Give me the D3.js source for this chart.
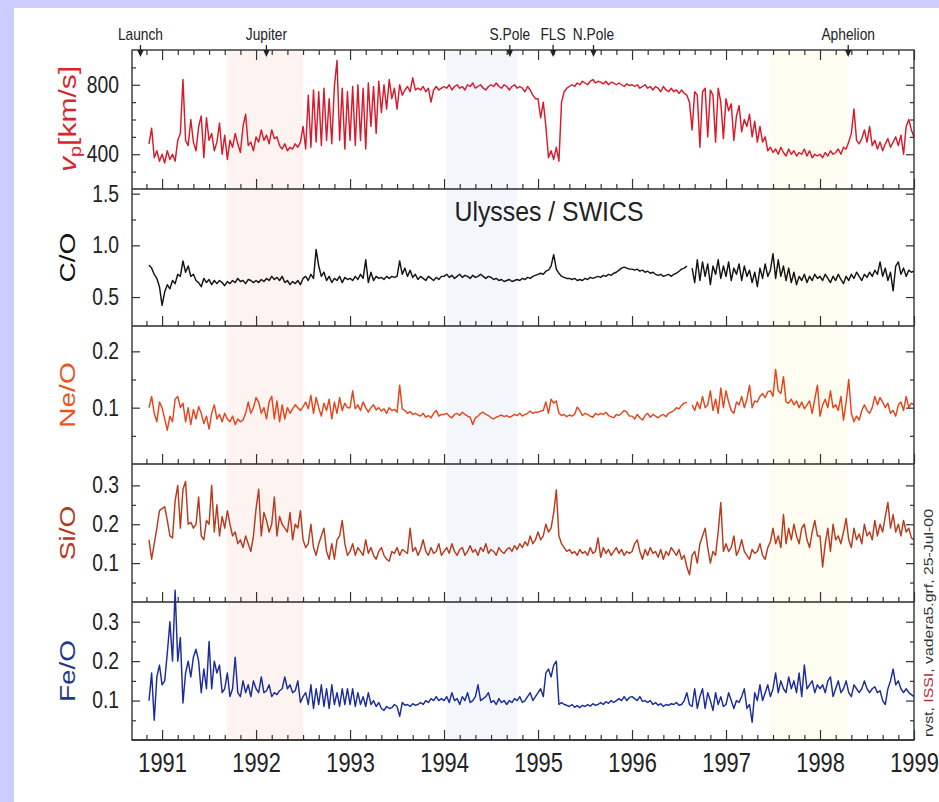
<!DOCTYPE html>
<html lang="en">
<head>
  <meta charset="UTF-8" />
  <title>Ulysses / SWICS element ratios</title>
  <script src="https://d3js.org/d3.v7.min.js"></script>
  <style>
    body { margin: 0; background: #fff; }
    svg { display: block; font-family: "Liberation Sans", Arial, sans-serif; }
    .tick line { stroke: #333; stroke-width: 1.2px; }
    .series { fill: none; stroke-width: 1.45px; stroke-linejoin: round; }
  </style>
</head>
<body>
  <svg width="939" height="802"></svg>

  <script>
    // sampling: rows are calendar years, 36 samples per year (first row starts at 31/36 of 1990)
    const rowYears = [1990, 1991, 1992, 1993, 1994, 1995, 1996, 1997, 1998, 1999];
    const firstRowOffset = 31;
    const perYear = 36;

    const vp = [
      [460, 550, 380, 420, 360],
      [400,350,420,370,400,360,480,520,830,480, 450,600,470,420,560,620,380,610,480,520, 420,470,580,400,510,370,480,440,520,460, 410,560,630,450,470,420],
      [500,470,540,480,510,460,540,490,500,450, 430,460,420,440,430,460,440,470,560,430, 740,440,770,470,760,450,780,480,720,460, 790,940,480,780,430,760],
      [480,790,450,800,480,780,430,810,560,790, 520,820,640,800,660,830,720,780,660,800, 740,770,790,760,840,770,780,770,790,760, 780,700,770,790,770,780],
      [790,780,800,770,790,800,780,790,770,800, 790,810,780,790,800,780,770,790,800,790, 810,790,780,800,790,770,790,800,780,790, 780,760,790,770,740,720],
      [720,610,700,560,380,420,370,440,360,700, 760,780,790,800,790,810,800,820,810,800, 820,830,810,820,815,805,820,800,815,810, 800,810,800,790,805,795],
      [800,790,800,780,790,800,780,790,770,790, 780,760,790,770,760,780,760,770,750,770, 750,740,700,540,760,740,440,760,780,500, 770,740,470,780,700,490],
      [720,650,690,480,620,680,530,600,560,630, 500,590,470,560,470,500,420,440,410,430, 400,440,410,390,430,400,420,390,410,400, 430,390,420,380,400,390],
      [400,380,410,390,420,400,410,430,400,440, 430,470,520,660,480,460,490,540,470,560, 450,480,430,470,420,460,490,440,470,500, 450,510,400,560,600,540],
      [500]
    ];

    const co = [
      [0.81,0.78,0.72,0.68,0.60],
      [0.42,0.55,0.62,0.58,0.66,0.63,0.72,0.70,0.85,0.74, 0.80,0.70,0.72,0.66,0.64,0.60,0.68,0.64,0.67,0.62, 0.66,0.63,0.66,0.64,0.61,0.65,0.63,0.66,0.64,0.68, 0.65,0.66,0.63,0.67,0.66,0.64],
      [0.66,0.64,0.67,0.65,0.68,0.66,0.70,0.67,0.69,0.66, 0.70,0.64,0.66,0.62,0.65,0.63,0.66,0.62,0.68,0.70, 0.66,0.72,0.68,0.96,0.80,0.70,0.74,0.66,0.70,0.64, 0.68,0.66,0.70,0.64,0.69,0.67],
      [0.68,0.66,0.70,0.67,0.72,0.68,0.86,0.64,0.74,0.66, 0.70,0.68,0.69,0.67,0.70,0.68,0.70,0.69,0.70,0.85, 0.72,0.78,0.70,0.76,0.69,0.72,0.67,0.70,0.68,0.66, 0.70,0.68,0.66,0.69,0.67,0.70],
      [0.70,0.72,0.69,0.71,0.68,0.70,0.72,0.69,0.71,0.70, 0.68,0.71,0.69,0.70,0.72,0.70,0.68,0.70,0.69,0.67, 0.68,0.66,0.67,0.65,0.66,0.67,0.65,0.66,0.67,0.66, 0.68,0.67,0.69,0.68,0.70,0.71],
      [0.72,0.73,0.72,0.75,0.76,0.80,0.91,0.77,0.73,0.70, 0.69,0.68,0.68,0.67,0.68,0.66,0.67,0.66,0.68,0.67, 0.69,0.68,0.69,0.70,0.69,0.71,0.70,0.72,0.71,0.73, 0.74,0.76,0.78,0.79,0.78,0.77],
      [0.77,0.76,0.77,0.75,0.76,0.74,0.75,0.73,0.74,0.72, 0.71,0.72,0.70,0.71,0.72,0.70,0.72,0.73,0.75,0.77, 0.78,0.80,null,0.78,0.64,0.86,0.66,0.84,0.70,0.82, 0.62,0.80,0.72,0.86,0.68,0.80],
      [0.70,0.84,0.66,0.78,0.72,0.82,0.66,0.80,0.70,0.76, 0.64,0.74,0.60,0.78,0.68,0.82,0.70,0.76,0.92,0.68, 0.86,0.70,0.80,0.66,0.78,0.64,0.74,0.62,0.70,0.66, 0.72,0.64,0.70,0.66,0.72,0.68],
      [0.70,0.66,0.72,0.68,0.64,0.70,0.66,0.72,0.67,0.63, 0.70,0.66,0.72,0.68,0.74,0.70,0.66,0.72,0.69,0.74, 0.70,0.76,0.72,0.84,0.70,0.78,0.66,0.74,0.56,0.80, 0.84,0.72,0.78,0.70,0.76,0.74],
      [0.75]
    ];

    const neo = [
      [0.10,0.12,0.09,0.075,0.11],
      [0.10,0.08,0.06,0.085,0.075,0.115,0.12,0.10,0.108,0.075, 0.10,0.07,0.097,0.08,0.102,0.09,0.072,0.085,0.062,0.09, 0.105,0.08,0.088,0.075,0.09,0.08,0.075,0.085,0.07,0.08, 0.075,0.078,0.09,0.11,0.09,0.10],
      [0.118,0.11,0.09,0.10,0.08,0.11,0.12,0.08,0.112,0.075, 0.105,0.08,0.10,0.09,0.098,0.105,0.10,0.095,0.102,0.11, 0.098,0.122,0.09,0.118,0.10,0.085,0.108,0.095,0.115,0.08, 0.11,0.09,0.118,0.095,0.108,0.10],
      [0.10,0.13,0.098,0.105,0.095,0.11,0.10,0.092,0.10,0.105, 0.096,0.10,0.094,0.098,0.09,0.10,0.095,0.097,0.092,0.14, 0.098,0.095,0.09,0.093,0.088,0.09,0.087,0.085,0.09,0.083, 0.086,0.082,0.09,0.095,0.085,0.088],
      [0.088,0.09,0.085,0.082,0.088,0.09,0.086,0.092,0.088,0.085, 0.083,0.07,0.082,0.085,0.09,0.092,0.088,0.086,0.082,0.08, 0.083,0.085,0.087,0.084,0.086,0.083,0.085,0.088,0.086,0.09, 0.085,0.088,0.09,0.094,0.09,0.092],
      [0.092,0.094,0.095,0.11,0.09,0.115,0.108,0.112,0.09,0.086, 0.088,0.084,0.087,0.085,0.088,0.101,0.095,0.086,0.09,0.088, 0.085,0.083,0.09,0.087,0.09,0.088,0.092,0.086,0.084,0.082, 0.088,0.086,0.09,0.095,0.092,0.085],
      [0.085,0.08,0.088,0.082,0.078,0.086,0.09,0.083,0.088,0.085, 0.082,0.086,0.088,0.084,0.09,0.092,0.095,0.10,0.098,0.104, 0.108,0.11,null,0.105,0.095,0.11,0.098,0.12,0.10,0.105, 0.13,0.095,0.115,0.09,0.135,0.10],
      [0.13,0.11,0.095,0.09,0.11,0.105,0.12,0.10,0.115,0.14, 0.10,0.112,0.11,0.12,0.125,0.118,0.128,0.13,0.12,0.168, 0.13,0.125,0.155,0.11,0.108,0.115,0.105,0.112,0.10,0.11, 0.098,0.105,0.112,0.09,0.115,0.14],
      [0.085,0.105,0.115,0.10,0.13,0.10,0.105,0.095,0.12,0.078, 0.11,0.15,0.09,0.075,0.085,0.078,0.095,0.105,0.095,0.09, 0.10,0.12,0.105,0.118,0.11,0.10,0.108,0.09,0.095,0.085, 0.105,0.11,0.095,0.12,0.10,0.108],
      [0.105]
    ];

    const sio = [
      [0.16,0.11,0.15,0.19,0.235],
      [0.24,0.245,0.21,0.17,0.165,0.26,0.30,0.19,0.29,0.31, 0.20,0.205,0.19,0.20,0.27,0.17,0.16,0.21,0.20,0.30, 0.18,0.25,0.17,0.22,0.19,0.235,0.20,0.17,0.18,0.15, 0.16,0.14,0.17,0.15,0.13,0.17],
      [0.24,0.29,0.17,0.23,0.21,0.18,0.20,0.27,0.17,0.22, 0.20,0.19,0.18,0.23,0.16,0.20,0.19,0.235,0.16,0.14, 0.15,0.20,0.14,0.12,0.15,0.17,0.19,0.13,0.11,0.15, 0.11,0.16,0.17,0.21,0.15,0.12],
      [0.13,0.15,0.12,0.14,0.13,0.12,0.16,0.125,0.14,0.12, 0.11,0.13,0.14,0.12,0.11,0.105,0.13,0.125,0.14,0.12, 0.135,0.13,0.125,0.19,0.13,0.14,0.12,0.135,0.16,0.13, 0.12,0.14,0.125,0.13,0.15,0.12],
      [0.13,0.14,0.125,0.15,0.13,0.12,0.135,0.14,0.12,0.13, 0.145,0.128,0.135,0.12,0.14,0.13,0.15,0.125,0.135,0.13, 0.12,0.14,0.13,0.125,0.135,0.14,0.13,0.145,0.135,0.15, 0.14,0.155,0.145,0.17,0.15,0.16],
      [0.18,0.16,0.17,0.20,0.18,0.19,0.23,0.288,0.17,0.15, 0.14,0.13,0.135,0.125,0.13,0.12,0.135,0.125,0.13,0.12, 0.14,0.125,0.13,0.165,0.115,0.14,0.125,0.135,0.12,0.13, 0.14,0.125,0.135,0.12,0.13,0.125],
      [0.13,0.15,0.16,0.13,0.11,0.135,0.12,0.14,0.125,0.13, 0.115,0.135,0.11,0.13,0.12,0.14,0.13,0.12,0.135,0.11, 0.12,0.09,0.07,0.12,0.13,0.10,0.15,0.17,0.19,0.14, 0.10,0.13,0.12,0.18,0.256,0.13],
      [0.15,0.13,0.14,0.17,0.12,0.135,0.16,0.13,0.12,0.11, 0.135,0.125,0.13,0.15,0.12,0.11,0.14,0.155,0.19,0.15, 0.17,0.14,0.225,0.15,0.19,0.16,0.20,0.17,0.15,0.19, 0.20,0.16,0.14,0.18,0.21,0.17],
      [0.17,0.09,0.15,0.19,0.13,0.20,0.16,0.17,0.15,0.18, 0.215,0.16,0.14,0.19,0.16,0.175,0.15,0.20,0.17,0.18, 0.16,0.21,0.17,0.20,0.18,0.22,0.256,0.19,0.225,0.18, 0.20,0.17,0.21,0.18,0.19,0.165],
      [0.16]
    ];

    const feo = [
      [0.10,0.17,0.05,0.16,0.19],
      [0.14,0.15,0.22,0.30,0.20,0.38,0.20,0.26,0.094,0.17, 0.20,0.16,0.21,0.23,0.20,0.12,0.18,0.13,0.25,0.13, 0.20,0.17,0.19,0.12,0.13,0.17,0.11,0.13,0.21,0.12, 0.11,0.15,0.12,0.14,0.11,0.15],
      [0.13,0.12,0.16,0.12,0.125,0.14,0.11,0.12,0.115,0.125, 0.13,0.16,0.13,0.14,0.12,0.125,0.15,0.095,0.11,0.12, 0.09,0.14,0.08,0.13,0.09,0.14,0.085,0.13,0.08,0.14, 0.09,0.12,0.085,0.13,0.09,0.13],
      [0.09,0.13,0.085,0.12,0.09,0.11,0.085,0.12,0.09,0.10, 0.085,0.095,0.08,0.075,0.085,0.08,0.082,0.09,0.085,0.06, 0.095,0.088,0.09,0.085,0.092,0.088,0.09,0.095,0.09,0.10, 0.095,0.105,0.10,0.11,0.10,0.105],
      [0.10,0.11,0.095,0.12,0.10,0.105,0.09,0.11,0.10,0.12, 0.095,0.10,0.11,0.14,0.10,0.105,0.11,0.12,0.095,0.10, 0.09,0.105,0.095,0.10,0.09,0.10,0.095,0.105,0.10,0.11, 0.095,0.10,0.11,0.12,0.10,0.11],
      [0.12,0.13,0.11,0.17,0.18,0.16,0.19,0.20,0.09,0.095, 0.09,0.088,0.085,0.09,0.083,0.087,0.082,0.088,0.085,0.09, 0.086,0.092,0.088,0.09,0.095,0.09,0.097,0.093,0.10,0.095, 0.10,0.105,0.10,0.11,0.10,0.108],
      [0.11,0.105,0.10,0.11,0.098,0.10,0.095,0.10,0.09,0.095, 0.088,0.092,0.085,0.09,0.088,0.092,0.09,0.095,0.088,0.09, 0.10,0.12,0.09,0.085,0.13,0.08,0.11,0.13,0.08,0.12, 0.10,0.075,0.12,0.09,0.11,0.085],
      [0.09,0.12,0.10,0.08,0.10,0.095,0.11,0.13,0.08,0.09, 0.045,0.12,0.10,0.14,0.10,0.12,0.14,0.11,0.13,0.17, 0.12,0.15,0.13,0.12,0.16,0.13,0.15,0.12,0.17,0.11, 0.19,0.13,0.14,0.15,0.12,0.14],
      [0.13,0.14,0.12,0.15,0.16,0.11,0.13,0.15,0.12,0.13, 0.15,0.12,0.11,0.14,0.13,0.12,0.13,0.15,0.13,0.12, 0.13,0.135,0.12,0.125,0.10,0.09,0.13,0.15,0.18,0.14, 0.15,0.13,0.12,0.13,0.12,0.115],
      [0.11]
    ];

    // spacecraft events (decimal years)
    const eventNames = ["Launch", "Jupiter", "S.Pole", "FLS", "N.Pole", "Aphelion"];
    const eventTimes = [1990.77, 1992.11, 1994.70, 1995.16, 1995.59, 1998.30];

    // shaded intervals
    const bandStarts = [1991.69, 1994.03, 1997.47];
    const bandEnds = [1992.50, 1994.78, 1998.29];
    const bandColors = ["#fdf4f2", "#f3f7fc", "#fffdf2"];

    const yearTicks = [1991, 1992, 1993, 1994, 1995, 1996, 1997, 1998, 1999];

    // panel tick labels
    const vpMajor = [400, 800], vpMinor = [300, 500, 600, 700, 900];
    const coMajor = [0.5, 1.0, 1.5], coMinor = [1.25];
    const neoMajor = [0.1, 0.2], neoMinor = [0.05, 0.15];
    const sioMajor = [0.1, 0.2, 0.3], sioMinor = [0.05, 0.15, 0.25];
    const feoMajor = [0.1, 0.2, 0.3], feoMinor = [0.05, 0.15, 0.25];

    const svg = d3.select("svg");
    const W = 939, H = 802;
    const left = 132, right = 914;

    svg.append("rect").attr("width", W).attr("height", H).attr("fill", "#ccccff");
    svg.append("rect").attr("x", 14).attr("y", 8).attr("width", W - 14).attr("height", H - 8).attr("fill", "#fff");

    const x = d3.scaleLinear().domain([1990.68, 1999]).range([left, right]);

    function toPoints(rows) {
      const pts = [];
      rows.forEach((row, r) => {
        const off = r === 0 ? firstRowOffset : 0;
        row.forEach((v, i) => pts.push({ t: rowYears[r] + (off + i) / perYear, v }));
      });
      return pts;
    }

    const panels = [
      { rows: vp, top: 50, bottom: 189, domain: [200, 1000], fmt: d3.format("d"), major: vpMajor, minor: vpMinor, color: "#d81b2b" },
      { rows: co, top: 189, bottom: 326, domain: [0.22, 1.545], fmt: d3.format(".1f"), major: coMajor, minor: coMinor, color: "#141414", title: "C/O", titleColor: "#111" },
      { rows: neo, top: 326, bottom: 464, domain: [0, 0.245], fmt: d3.format(".1f"), major: neoMajor, minor: neoMinor, color: "#e6451b", title: "Ne/O", titleColor: "#e8531f" },
      { rows: sio, top: 464, bottom: 602, domain: [0, 0.355], fmt: d3.format(".1f"), major: sioMajor, minor: sioMinor, color: "#b93b1d", title: "Si/O", titleColor: "#b53a22" },
      { rows: feo, top: 602, bottom: 740, domain: [0, 0.35], fmt: d3.format(".1f"), major: feoMajor, minor: feoMinor, color: "#1b2d9c", title: "Fe/O", titleColor: "#1f3a8c" }
    ];

    // shaded bands
    svg.selectAll(".band")
      .data(bandStarts)
      .enter()
      .append("rect")
      .attr("class", "band")
      .attr("x", d => x(d))
      .attr("width", (d, i) => x(bandEnds[i]) - x(d))
      .attr("y", 50)
      .attr("height", 690)
      .attr("fill", (d, i) => bandColors[i]);

    function squish(sel, sx) {
      sel.each(function () {
        const t = d3.select(this);
        const tx = +t.attr("x") || 0, ty = +t.attr("y") || 0;
        t.attr("x", null).attr("y", null)
         .attr("transform", `translate(${tx},${ty}) scale(${sx},1)`);
      });
    }

    const minorX = d3.range(1990 + 5 / 6, 1999, 1 / 6).filter(d => Math.abs(d - Math.round(d)) > 0.01);

    panels.forEach((p, k) => {
      const y = d3.scaleLinear().domain(p.domain).range([p.bottom, p.top]);

      // data line
      const line = d3.line()
        .defined(d => d.v != null)
        .x(d => x(d.t))
        .y(d => y(d.v));
      svg.append("path")
        .datum(toPoints(p.rows))
        .attr("class", "series")
        .attr("stroke", p.color)
        .attr("d", line);

      // x ticks on panel bottom, pointing up
      svg.append("g")
        .attr("transform", `translate(0,${p.bottom})`)
        .call(d3.axisBottom(x).tickValues(yearTicks).tickSize(-10).tickFormat(""))
        .call(g => g.select(".domain").remove());
      svg.append("g")
        .attr("transform", `translate(0,${p.bottom})`)
        .call(d3.axisBottom(x).tickValues(minorX).tickSize(-5).tickFormat(""))
        .call(g => g.select(".domain").remove());

      // y ticks, left with labels, right without
      const yl = svg.append("g")
        .attr("transform", `translate(${left},0)`)
        .call(d3.axisLeft(y).tickValues(p.major).tickSize(-8).tickPadding(13).tickFormat(p.fmt))
        .call(g => g.select(".domain").remove());
      yl.selectAll("text")
        .attr("font-size", 23)
        .attr("font-family", "Liberation Sans, Arial, sans-serif")
        .attr("fill", "#222")
        .call(squish, 0.84);
      svg.append("g")
        .attr("transform", `translate(${left},0)`)
        .call(d3.axisLeft(y).tickValues(p.minor).tickSize(-4).tickFormat(""))
        .call(g => g.select(".domain").remove());
      svg.append("g")
        .attr("transform", `translate(${right},0)`)
        .call(d3.axisRight(y).tickValues(p.major).tickSize(-8).tickFormat(""))
        .call(g => g.select(".domain").remove());
      svg.append("g")
        .attr("transform", `translate(${right},0)`)
        .call(d3.axisRight(y).tickValues(p.minor).tickSize(-4).tickFormat(""))
        .call(g => g.select(".domain").remove());

      // separator
      svg.append("line")
        .attr("x1", left).attr("x2", right)
        .attr("y1", p.bottom).attr("y2", p.bottom)
        .attr("stroke", "#2a2a2a").attr("stroke-width", 1.7);

      // title
      if (p.title) {
        svg.append("text")
          .attr("transform", `translate(67,${(p.top + p.bottom) / 2}) rotate(-90) scale(1,0.82)`)
          .attr("text-anchor", "middle")
          .attr("dy", "0.36em")
          .attr("font-size", 28)
          .attr("fill", p.titleColor)
          .text(p.title);
      }
    });

    // top edge ticks of first panel, pointing down
    svg.append("g")
      .attr("transform", "translate(0,50)")
      .call(d3.axisTop(x).tickValues(yearTicks).tickSize(-10).tickFormat(""))
      .call(g => g.select(".domain").remove());
    svg.append("g")
      .attr("transform", "translate(0,50)")
      .call(d3.axisTop(x).tickValues(minorX).tickSize(-5).tickFormat(""))
      .call(g => g.select(".domain").remove());

    // frame
    svg.append("rect")
      .attr("x", left).attr("y", 50)
      .attr("width", right - left).attr("height", 690)
      .attr("fill", "none").attr("stroke", "#333").attr("stroke-width", 1.4);

    // year labels
    const xa = svg.append("g")
      .attr("transform", "translate(0,740)")
      .call(d3.axisBottom(x).tickValues(yearTicks).tickSize(0).tickPadding(12).tickFormat(d3.format("d")))
      .call(g => g.select(".domain").remove());
    xa.selectAll("text")
      .attr("font-size", 28)
      .attr("font-family", "Liberation Sans, Arial, sans-serif")
      .attr("fill", "#222")
      .call(squish, 0.78);

    // v_p title
    const vpTitle = svg.append("text")
      .attr("transform", "translate(67,119) rotate(-90) scale(1,0.82)")
      .attr("text-anchor", "middle")
      .attr("dy", "0.36em")
      .attr("font-size", 30)
      .attr("fill", "#d8262f");
    vpTitle.append("tspan").attr("font-style", "italic").text("v");
    vpTitle.append("tspan").attr("font-size", 20).attr("dy", "0.3em").text("p");
    vpTitle.append("tspan").attr("dy", "-0.2em").text("[km/s]");

    // events
    const ev = svg.selectAll(".event")
      .data(eventTimes)
      .enter()
      .append("g")
      .attr("class", "event")
      .attr("transform", d => `translate(${x(d)},0)`);
    ev.append("line")
      .attr("y1", 45).attr("y2", 55)
      .attr("stroke", "#222").attr("stroke-width", 1.3);
    ev.append("path")
      .attr("d", "M-3.2,50L3.2,50L0,57Z")
      .attr("fill", "#222");
    ev.append("text")
      .attr("transform", "translate(0,40) scale(0.86,1)")
      .attr("text-anchor", "middle")
      .attr("font-size", 16)
      .attr("fill", "#222")
      .text((d, i) => eventNames[i]);

    // instrument label
    svg.append("text")
      .attr("transform", "translate(549,221) scale(0.92,1)")
      .attr("text-anchor", "middle")
      .attr("font-size", 27)
      .attr("fill", "#222")
      .text("Ulysses / SWICS");

    // file stamp on the right
    const stamp = svg.append("text")
      .attr("transform", "translate(933,737) rotate(-90)")
      .attr("font-size", 12)
      .attr("fill", "#333")
      .attr("textLength", 228)
      .attr("lengthAdjust", "spacingAndGlyphs");
    stamp.append("tspan").text("rvst, ");
    stamp.append("tspan").attr("fill", "#b0303a").text("ISSI");
    stamp.append("tspan").text(", vadera5.grf, 25-Jul-00");
  </script>
</body>
</html>
